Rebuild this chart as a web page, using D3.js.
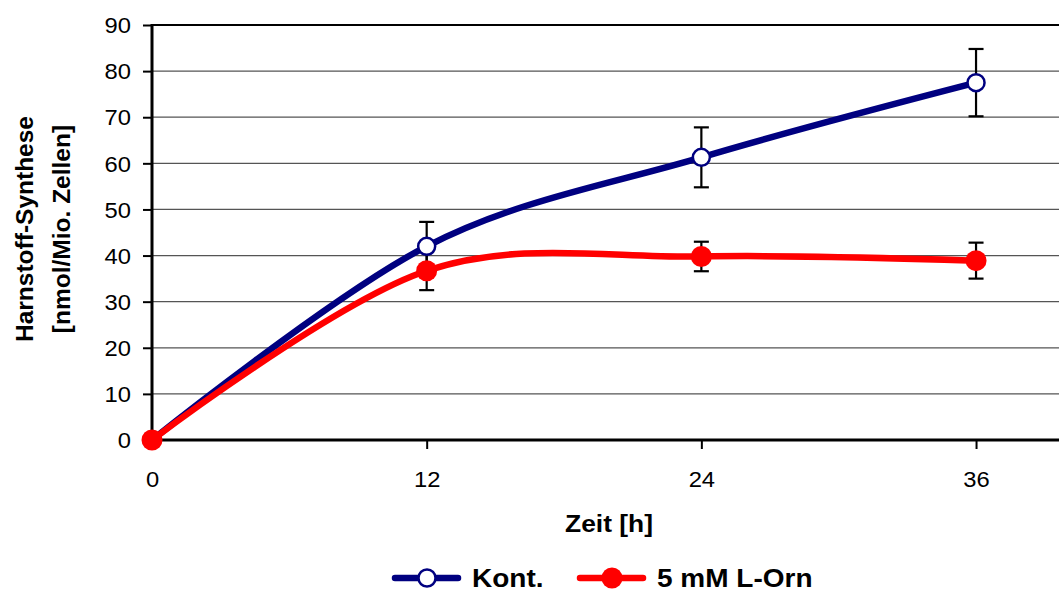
<!DOCTYPE html>
<html>
<head>
<meta charset="utf-8">
<script src="https://cdn.jsdelivr.net/npm/d3@7"></script>
<style>
  html, body { margin: 0; padding: 0; background: #fff; }
  svg { display: block; font-family: "Liberation Sans", Arial, sans-serif; }
</style>
</head>
<body>
<svg id="chart" width="1059" height="593"></svg>
<script>
// Urea synthesis over time, control vs. 5 mM L-ornithine (mean ± SD)
const hours = [0, 12, 24, 36];
const kontMean = [0, 42.0, 61.3, 77.5];
const kontErr = [0, 5.3, 6.5, 7.3];
const ornMean = [0, 36.7, 39.8, 38.9];
const ornErr = [0, 4.2, 3.2, 3.9];
const xTicks = [0, 12, 24, 36];
const yTicks = [0, 10, 20, 30, 40, 50, 60, 70, 80, 90];
const seriesNames = ["Kont.", "5 mM L-Orn"];

const svg = d3.select("#chart");
const W = 1059, H = 593;
const plotLeft = 152, plotTop = 25, plotBottom = 440;

// x runs 0–40 h; the right part of the plot area is cut by the canvas edge
const x = d3.scaleLinear().domain([0, 40]).range([plotLeft, plotLeft + 40 * 22.89]);
const y = d3.scaleLinear().domain([0, 90]).range([plotBottom, plotTop]);

const series = [
  { name: seriesNames[0], mean: kontMean, err: kontErr, color: "#000080", open: true },
  { name: seriesNames[1], mean: ornMean, err: ornErr, color: "#ff0000", open: false }
];

// horizontal gridlines
svg.append("g").selectAll("line").data(yTicks.filter(v => v > 0)).join("line")
  .attr("x1", plotLeft).attr("x2", W)
  .attr("y1", d => y(d)).attr("y2", d => y(d))
  .attr("stroke", d => d === 90 ? "#000" : "#555")
  .attr("stroke-width", d => d === 90 ? 2.2 : 1.2);

// y axis
const yAxis = svg.append("g").attr("transform", `translate(${plotLeft},0)`)
  .call(d3.axisLeft(y).tickValues(yTicks).tickSize(9).tickPadding(0).tickFormat(d3.format("d")));
yAxis.select(".domain").remove();
yAxis.selectAll(".tick line").attr("stroke", "#000").attr("stroke-width", 2);
yAxis.selectAll(".tick text").attr("font-size", 22).attr("fill", "#000")
  .attr("x", 0).attr("dy", null).attr("dominant-baseline", "central")
  .attr("text-anchor", "end")
  .attr("transform", "translate(-21,0) scale(1.08,1)");
svg.append("line").attr("x1", plotLeft).attr("x2", plotLeft).attr("y1", plotTop - 1).attr("y2", plotBottom + 1.5)
  .attr("stroke", "#000").attr("stroke-width", 3);

// x axis
const xAxis = svg.append("g").attr("transform", `translate(0,${plotBottom})`)
  .call(d3.axisBottom(x).tickValues(xTicks).tickSize(9).tickPadding(0).tickFormat(d3.format("d")));
xAxis.select(".domain").remove();
xAxis.selectAll(".tick line").attr("stroke", "#000").attr("stroke-width", 2);
xAxis.selectAll(".tick text").attr("font-size", 22).attr("fill", "#000")
  .attr("y", 0).attr("dy", null)
  .attr("transform", "translate(0,47) scale(1.08,1)");
svg.append("line").attr("x1", plotLeft - 1.5).attr("x2", W).attr("y1", plotBottom).attr("y2", plotBottom)
  .attr("stroke", "#000").attr("stroke-width", 3);

// smoothed series lines
const line = d3.line()
  .x((d, i) => x(hours[i]))
  .y(d => y(d))
  .curve(d3.curveCardinal.tension(0));

series.forEach(s => {
  svg.append("path").datum(s.mean)
    .attr("d", line).attr("fill", "none")
    .attr("stroke", s.color).attr("stroke-width", 6.5)
    .attr("stroke-linecap", "round").attr("stroke-linejoin", "round");
});

// error bars
series.forEach(s => {
  const g = svg.append("g").attr("stroke", "#000").attr("stroke-width", 2.2);
  const pts = hours.map((h, i) => ({ h, m: s.mean[i], e: s.err[i] })).filter(p => p.e > 0);
  g.selectAll(".v").data(pts).join("line")
    .attr("x1", d => x(d.h)).attr("x2", d => x(d.h))
    .attr("y1", d => y(d.m + d.e)).attr("y2", d => y(d.m - d.e));
  [1, -1].forEach(sign => {
    g.append("g").selectAll("line").data(pts).join("line")
      .attr("x1", d => x(d.h) - 7.5).attr("x2", d => x(d.h) + 7.5)
      .attr("y1", d => y(d.m + sign * d.e))
      .attr("y2", d => y(d.m + sign * d.e));
  });
});

// markers
series.forEach(s => {
  svg.append("g").selectAll("circle").data(s.mean).join("circle")
    .attr("cx", (d, i) => x(hours[i])).attr("cy", d => y(d))
    .attr("r", s.open ? 8.5 : 10.5)
    .attr("fill", s.open ? "#fff" : s.color)
    .attr("stroke", s.open ? s.color : "none")
    .attr("stroke-width", s.open ? 2.5 : 0);
});

// axis titles
svg.append("text")
  .attr("transform", "translate(609,532) scale(1.1,1)")
  .attr("text-anchor", "middle").attr("font-size", 24).attr("font-weight", "bold")
  .attr("fill", "#000").text("Zeit [h]");

const yt = svg.append("text")
  .attr("transform", "translate(0,229) rotate(-90)")
  .attr("text-anchor", "middle").attr("font-size", 24.5).attr("font-weight", "bold")
  .attr("fill", "#000");
yt.append("tspan").attr("x", 0).attr("y", 33).text("Harnstoff-Synthese");
yt.append("tspan").attr("x", 0).attr("y", 70).text("[nmol/Mio. Zellen]");

// legend
const legendX = [395, 580];
const legend = svg.append("g");
series.forEach((s, i) => {
  const g = legend.append("g").attr("transform", `translate(${legendX[i]},578)`);
  g.append("line").attr("x1", 0).attr("x2", 63).attr("y1", 0).attr("y2", 0)
    .attr("stroke", s.color).attr("stroke-width", 6.5).attr("stroke-linecap", "round");
  g.append("circle").attr("cx", 32).attr("cy", 0)
    .attr("r", s.open ? 8.5 : 10.5)
    .attr("fill", s.open ? "#fff" : s.color)
    .attr("stroke", s.open ? s.color : "none")
    .attr("stroke-width", s.open ? 2.5 : 0);
  g.append("text")
    .attr("transform", "translate(77,9) scale(1.12,1)")
    .attr("font-size", 25).attr("font-weight", "bold").attr("fill", "#000")
    .text(s.name);
});
</script>
</body>
</html>
